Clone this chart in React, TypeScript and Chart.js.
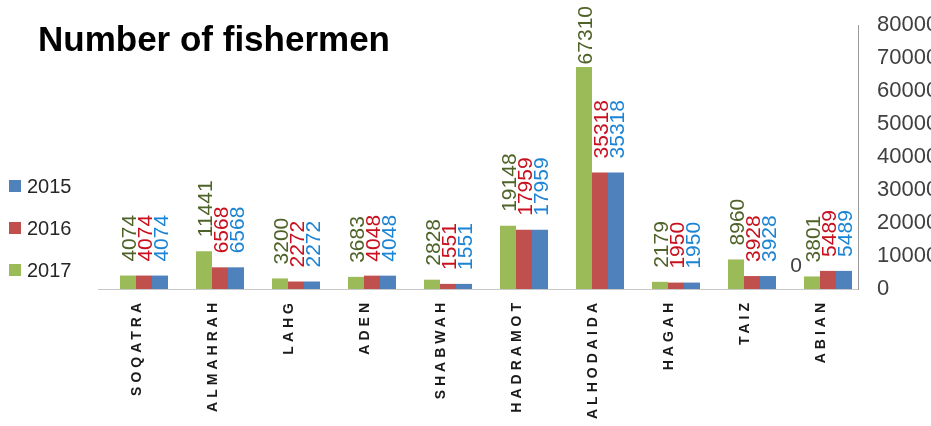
import React, { useEffect, useRef } from "react";
import { Chart, registerables } from "chart.js";

Chart.register(...registerables);

const categories = ["SOQATRA", "ALMAHRAH", "LAHG", "ADEN", "SHABWAH", "HADRAMOT", "ALHODAIDA", "HAGAH", "TAIZ", "ABIAN"];
const values2017 = [4074, 11441, 3200, 3683, 2828, 19148, 67310, 2179, 8960, 3801];
const values2016 = [4074, 6568, 2272, 4048, 1551, 17959, 35318, 1950, 3928, 5489];
const values2015 = [4074, 6568, 2272, 4048, 1551, 17959, 35318, 1950, 3928, 5489];
const yTicks = [0, 10000, 20000, 30000, 40000, 50000, 60000, 70000, 80000];
const titleText = "Number of fishermen";
const strayLabelCategory = "ABIAN";
const strayLabelValue = 0;

const FONT = "'Liberation Sans', Arial, sans-serif";

const seriesStyle = [
  { label: "2017", data: values2017, fill: "#9BBB59", text: "#4F6228" },
  { label: "2016", data: values2016, fill: "#C0504D", text: "#C8101E" },
  { label: "2015", data: values2015, fill: "#4F81BD", text: "#1C84D4" },
];

const decorPlugin = {
  id: "decor",
  afterDatasetsDraw(chart: any) {
    const ctx = chart.ctx;
    const area = chart.chartArea;
    const xs = chart.scales.x;
    const ys = chart.scales.y;
    const shift = 8;

    // axis lines
    ctx.save();
    ctx.lineWidth = 1;
    ctx.strokeStyle = "#C8C8C8";
    ctx.beginPath();
    ctx.moveTo(area.left - shift, Math.round(area.bottom) + 0.5);
    ctx.lineTo(area.right - shift, Math.round(area.bottom) + 0.5);
    ctx.stroke();
    ctx.strokeStyle = "#9A9A9A";
    ctx.beginPath();
    ctx.moveTo(Math.round(area.right - shift) + 0.5, area.top);
    ctx.lineTo(Math.round(area.right - shift) + 0.5, area.bottom + 1);
    ctx.stroke();
    ctx.restore();

    // data labels
    const lblSize = 21;
    const capH = lblSize * 0.716;
    chart.data.datasets.forEach((ds: any, di: number) => {
      const meta = chart.getDatasetMeta(di);
      meta.data.forEach((bar: any, i: number) => {
        const txt = String(ds.data[i]);
        ctx.save();
        ctx.font = `${lblSize}px ${FONT}`;
        ctx.fillStyle = ds.labelColor;
        const w = ctx.measureText(txt).width;
        let start = bar.y - 14;
        if (start - w < 6) start = 6 + w;
        ctx.translate(bar.x + capH / 2, start);
        ctx.rotate(-Math.PI / 2);
        ctx.textAlign = "left";
        ctx.textBaseline = "alphabetic";
        ctx.fillText(txt, 0, 0);
        ctx.restore();
      });
    });

    // stray zero label
    const ci = categories.indexOf(strayLabelCategory);
    const firstBar = chart.getDatasetMeta(0).data[ci];
    if (firstBar) {
      ctx.save();
      ctx.font = `${lblSize}px ${FONT}`;
      ctx.fillStyle = "#404040";
      ctx.textAlign = "center";
      ctx.textBaseline = "middle";
      ctx.fillText(String(strayLabelValue), firstBar.x - firstBar.width, ys.getPixelForValue(strayLabelValue) - 23);
      ctx.restore();
    }

    // category labels
    ctx.save();
    ctx.font = `bold 14px ${FONT}`;
    ctx.fillStyle = "#1A1A1A";
    (ctx as any).letterSpacing = "4px";
    categories.forEach((c, i) => {
      const x = xs.getPixelForValue(i) - shift;
      ctx.save();
      ctx.translate(x + (14 * 0.716) / 2, area.bottom + 10);
      ctx.rotate(-Math.PI / 2);
      ctx.textAlign = "right";
      ctx.textBaseline = "alphabetic";
      ctx.fillText(c, 0, 0);
      ctx.restore();
    });
    ctx.restore();

    // title
    ctx.save();
    ctx.font = `bold 35px ${FONT}`;
    ctx.fillStyle = "#000000";
    ctx.textAlign = "left";
    ctx.textBaseline = "alphabetic";
    ctx.fillText(titleText, 38, 51);
    ctx.restore();

    // legend (reverse order)
    const legendItems = [...chart.data.datasets].reverse();
    legendItems.forEach((ds: any, k: number) => {
      const cy = 186 + k * 42;
      ctx.save();
      ctx.fillStyle = ds.backgroundColor;
      ctx.fillRect(9, cy - 6, 12, 12);
      ctx.font = `20px ${FONT}`;
      ctx.fillStyle = "#262626";
      ctx.textAlign = "left";
      ctx.textBaseline = "middle";
      ctx.fillText(ds.label, 27, cy + 1);
      ctx.restore();
    });
  },
};

export default function App() {
  const ref = useRef<HTMLCanvasElement | null>(null);
  useEffect(() => {
    document.body.style.margin = "0";
    const canvas = ref.current;
    if (!canvas) return;
    const chart = new Chart(canvas, {
      type: "bar",
      data: {
        labels: categories,
        datasets: seriesStyle.map((s) => ({
          label: s.label,
          data: s.data,
          backgroundColor: s.fill,
          borderWidth: 0,
          labelColor: s.text,
          categoryPercentage: 0.632,
          barPercentage: 1,
        })) as any,
      },
      options: {
        responsive: false,
        animation: false,
        devicePixelRatio: 1,
        layout: { padding: { left: 106, top: 25, bottom: 137, right: 0 } },
        plugins: { legend: { display: false }, title: { display: false }, tooltip: { enabled: false } },
        scales: {
          x: { display: false },
          y: {
            position: "right",
            min: 0,
            max: 80000,
            afterBuildTicks: (scale: any) => {
              scale.ticks = yTicks.map((v) => ({ value: v }));
            },
            afterFit: (scale: any) => {
              scale.width = 65;
            },
            grid: { display: false, drawTicks: false },
            border: { display: false },
            ticks: {
              padding: 11,
              color: "#404040",
              font: { family: FONT, size: 22 },
              callback: (v: any) => String(v),
            },
          },
        },
      } as any,
      plugins: [decorPlugin],
    });
    return () => chart.destroy();
  }, []);
  return (
    <div style={{ position: "absolute", left: 0, top: 0, width: 931, height: 426 }}>
      <canvas ref={ref} width={931} height={426} />
    </div>
  );
}
